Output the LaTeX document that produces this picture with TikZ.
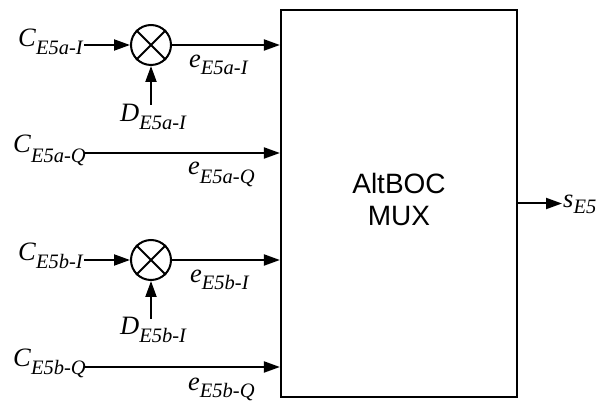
\documentclass[tikz,border=0pt]{standalone}
\usepackage{fontspec}
\setmainfont{Liberation Serif}
\setsansfont{Liberation Sans}
\usetikzlibrary{arrows.meta}
\newcommand{\sigtxt}[3]{\fontsize{26.5}{26.5}\selectfont\textit{#1}\raisebox{-#3pt}{\fontsize{20.5}{20.5}\selectfont\textit{#2}}}
\begin{document}
\begin{tikzpicture}[x=1pt,y=-1pt,
  lbl/.style={inner sep=0pt, anchor=base west},
  sigline/.style={line width=2pt, -{Triangle[length=16pt,width=11pt]}},
  mult/.style={circle, draw, line width=2pt, minimum size=40pt, inner sep=0pt},
  muxbox/.style={draw, line width=2.2pt, minimum width=236pt, minimum height=387pt, inner sep=0pt}]
\useasboundingbox (0,0) rectangle (598,403);
% box
\node[muxbox] (mux) at (399,203.5) {};
\node[inner sep=0pt, font=\sffamily\fontsize{28}{32}\selectfont, align=center] (muxtxt) at (399,199) {AltBOC\\MUX};
% multipliers
\node[mult] (m1) at (151,45) {};
\node[mult] (m2) at (151,260) {};
\draw[line width=2pt] (m1.north west) -- (m1.south east) (m1.north east) -- (m1.south west);
\draw[line width=2pt] (m2.north west) -- (m2.south east) (m2.north east) -- (m2.south west);
% coordinates
\coordinate (c1) at (84,45);
\coordinate (c2) at (85,153);
\coordinate (c3) at (84,260);
\coordinate (c4) at (85,367);
\coordinate (d1) at (151,105);
\coordinate (d2) at (151,319);
\coordinate (out) at (562,203.5);
% labels
\node[lbl] (lc1) at (18,47) {\sigtxt{C}{E5a-I}{8}};
\node[lbl] (lc2) at (13,153) {\sigtxt{C}{E5a-Q}{10}};
\node[lbl] (lc3) at (18,261) {\sigtxt{C}{E5b-I}{8}};
\node[lbl] (lc4) at (13,367) {\sigtxt{C}{E5b-Q}{8}};
\node[lbl] (ld1) at (120,122) {\sigtxt{D}{E5a-I}{8}};
\node[lbl] (ld2) at (120,335) {\sigtxt{D}{E5b-I}{8}};
\node[lbl] (le1) at (189,68) {\sigtxt{e}{E5a-I}{7}};
\node[lbl] (le2) at (188,175) {\sigtxt{e}{E5a-Q}{9}};
\node[lbl] (le3) at (190,283) {\sigtxt{e}{E5b-I}{7}};
\node[lbl] (le4) at (188,391) {\sigtxt{e}{E5b-Q}{7}};
\node[lbl] (ls) at (563,208) {\sigtxt{s}{E5}{6}};
% connectors
\draw[sigline] (c1) -- (m1.west);
\draw[sigline] (d1) -- (m1.south);
\draw[sigline] (m1.east) -- (mux.west |- m1);
\draw[sigline] (c2) -- (mux.west |- c2);
\draw[sigline] (c3) -- (m2.west);
\draw[sigline] (d2) -- (m2.south);
\draw[sigline] (m2.east) -- (mux.west |- m2);
\draw[sigline] (c4) -- (mux.west |- c4);
\draw[sigline] (mux.east) -- (out);
\end{tikzpicture}
\end{document}
